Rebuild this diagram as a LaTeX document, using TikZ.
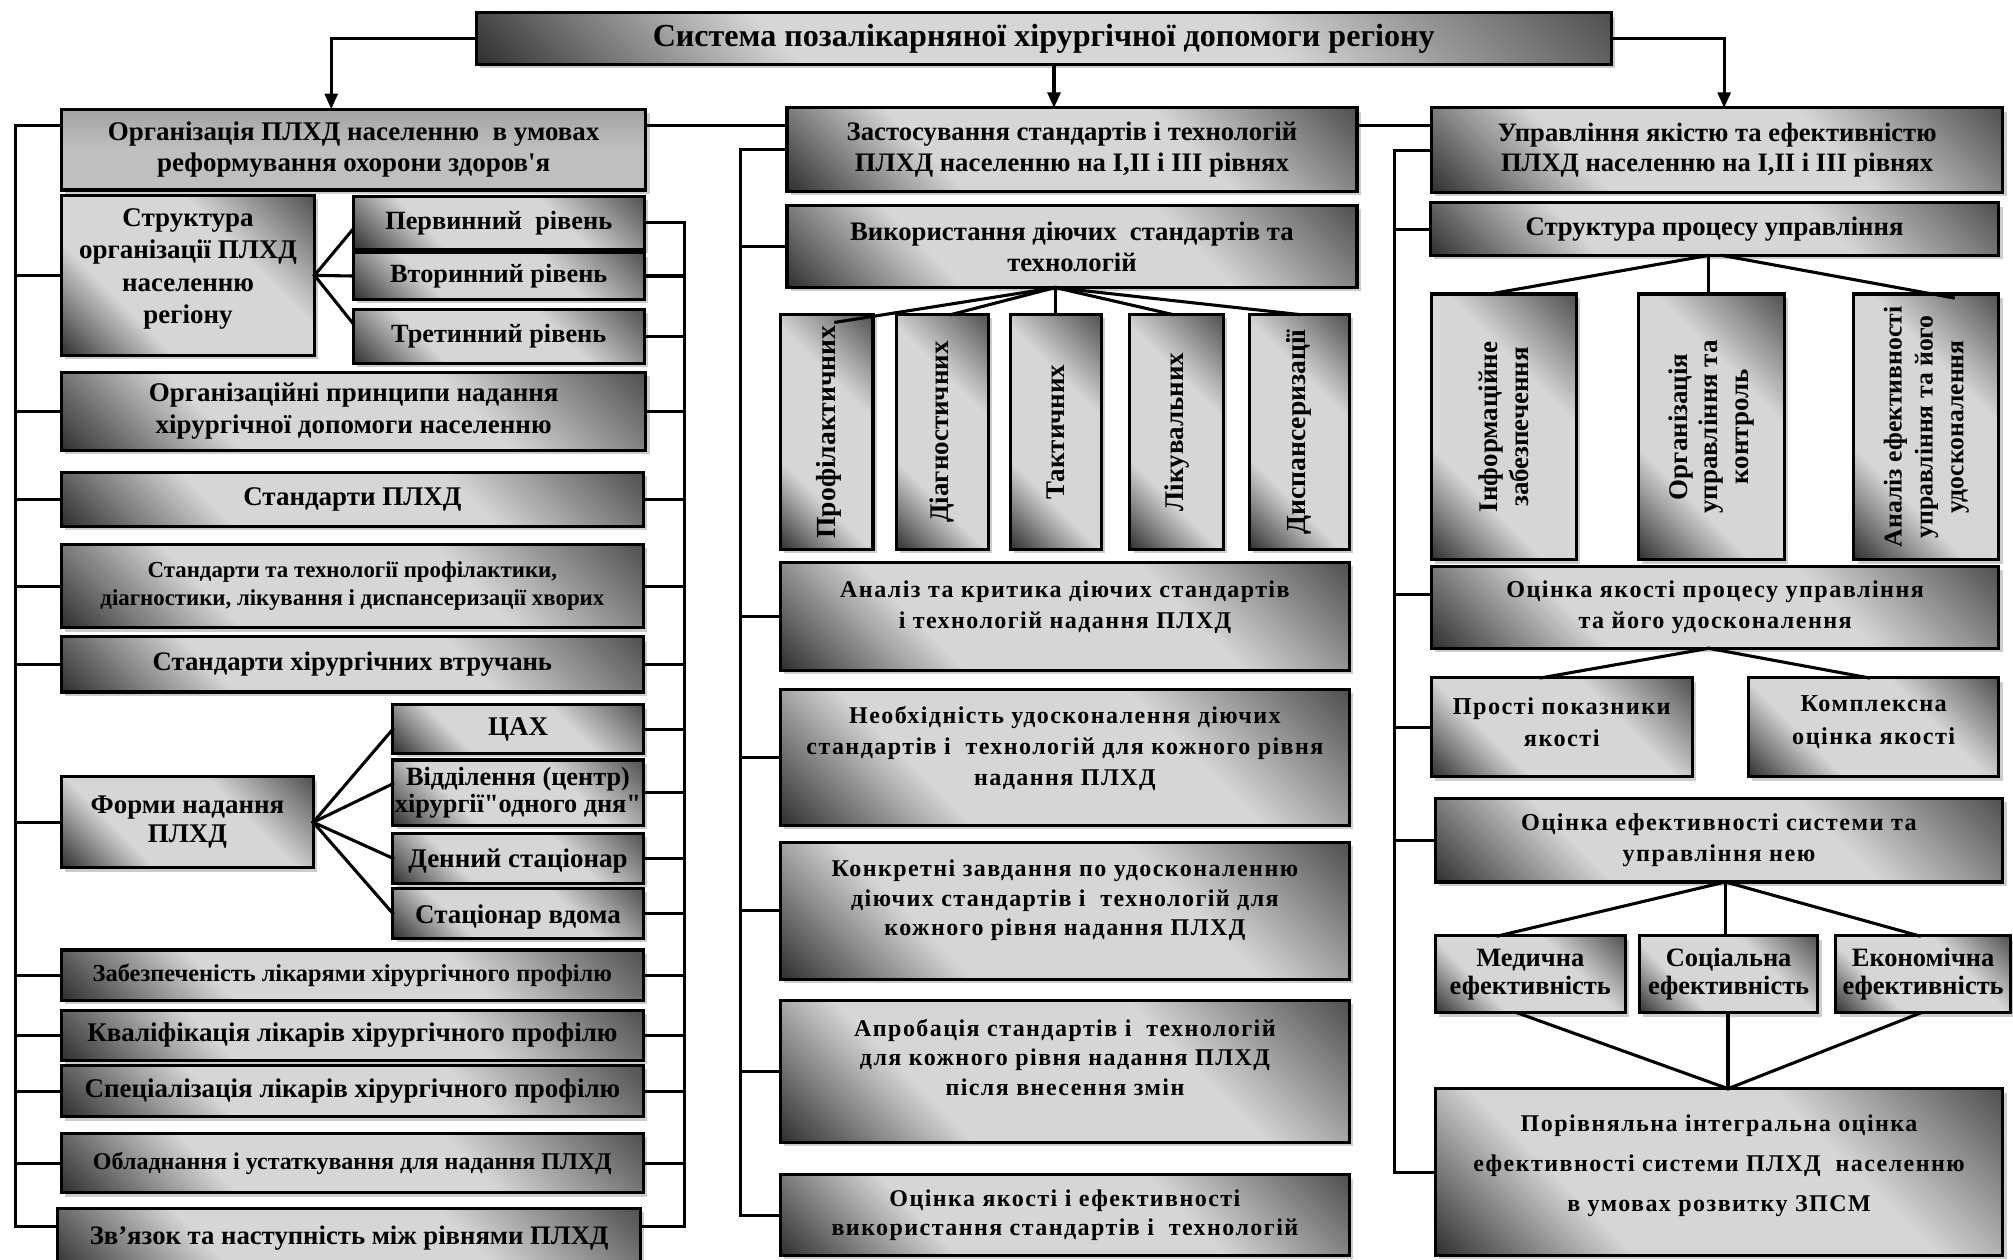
\documentclass[tikz,border=0pt]{standalone}
\usepackage{fontspec}
\setmainfont{Liberation Serif}[Ligatures=TeXOff]
\usetikzlibrary{arrows.meta,shadows,calc}
\definecolor{bxdark}{gray}{0.20}
\definecolor{bxmid}{gray}{0.30}
\definecolor{bxlight}{gray}{0.84}
\definecolor{bxflat}{gray}{0.75}
\definecolor{shadowc}{gray}{0.80}
\pgfdeclareverticalshading{boxshade}{100bp}{color(0bp)=(bxdark); color(15bp)=(bxdark); color(34bp)=(bxlight); color(63bp)=(bxlight); color(86bp)=(bxmid); color(100bp)=(bxmid)}
\tikzset{
  box/.style={draw=black, line width=2.4pt, shading=boxshade, shading angle=-45,
    drop shadow={shadow xshift=3pt, shadow yshift=-3pt, fill=shadowc, opacity=1}, inner sep=0pt, outer sep=0pt},
  flatbox/.style={box, shading=axis, top color=bxflat!85!black, bottom color=bxflat, middle color=bxflat},
  txt/.style={align=center, inner sep=0pt, outer sep=0pt, text=black},
  fs/.style 2 args={font=\fontsize{#1}{#2}\selectfont\bfseries},
  fsl/.style 2 args={font=\fontsize{#1}{#2}\selectfont\bfseries\addfontfeature{LetterSpace=6}},
  conn/.style={line width=2.4pt, line cap=rect, line join=miter},
  arr/.style={line width=2.4pt, -{Triangle[length=12pt,width=10pt]}},
}
\newcommand\mybox[8][box]{%
  \pgfmathsetmacro\bxcx{(#3+#5)/2}%
  \pgfmathsetmacro\bxcy{(#4+#6)/2}%
  \pgfmathsetmacro\bxw{#5-#3}%
  \pgfmathsetmacro\bxh{#6-#4}%
  \node[#1, minimum width=\bxw pt, minimum height=\bxh pt] (#2) at (\bxcx,\bxcy) {};
  \node[txt, #7] (#2t) at (#2.center) {#8};}
\begin{document}
\begin{tikzpicture}[x=1pt,y=-1pt]
\useasboundingbox (0,0) rectangle (1568,981);
\fill[white] (0,0) rectangle (1568,981);
% title
\mybox{T}{371}{10}{1255}{50}{fs={25}{28}}{Система позалікарняної хірургічної допомоги регіону}
% left column
\mybox[flatbox]{L0}{48}{85}{503}{148}{fs={21}{24}}{Організація ПЛХД населенню\ \ в умовах\\реформування охорони здоров'я}
\mybox{LS}{48}{152}{245}{277}{fs={21}{25},yshift=5pt}{Структура\\організації ПЛХД\\населенню\\регіону}
\mybox{P1}{275}{153}{502}{194}{fs={20.5}{22}}{Первинний\ \ рівень}
\mybox{P2}{275}{197}{502}{233}{fs={20.5}{22}}{Вторинний рівень}
\mybox{P3}{275}{241}{502}{283}{fs={20.5}{22}}{Третинний рівень}
\mybox{LP}{48}{290}{503}{351}{fs={21}{25}}{Організаційні принципи надання\\хірургічної допомоги населенню}
\mybox{LST}{48}{368}{501}{410}{fs={21}{24}}{Стандарти ПЛХД}
\mybox{LSTT}{48}{424}{501}{489}{fs={17.8}{22}}{Стандарти та технології профілактики,\\діагностики, лікування і диспансеризації хворих}
\mybox{LSV}{48}{496}{501}{539}{fs={20.8}{22}}{Стандарти хірургічних втручань}
\mybox{LF}{48}{605}{244}{676}{fs={21}{23}}{Форми надання\\ПЛХД}
\mybox{F1}{306}{549}{501}{587}{fs={21}{22}}{ЦАХ}
\mybox{F2}{306}{592}{501}{643}{fs={20.5}{21}}{Відділення (центр)\\хірургії"одного дня"}
\mybox{F3}{306}{649}{501}{688}{fs={21}{22},yshift=-2pt}{Денний стаціонар}
\mybox{F4}{306}{692}{501}{731}{fs={21}{22},yshift=-3pt}{Стаціонар вдома}
\mybox{LZ}{48}{740}{501}{779}{fs={19}{20}}{Забезпеченість лікарями хірургічного профілю}
\mybox{LK}{48}{787}{501}{826}{fs={21}{22}}{Кваліфікація лікарів хірургічного профілю}
\mybox{LSP}{48}{830}{501}{870}{fs={21}{22}}{Спеціалізація лікарів хірургічного профілю}
\mybox{LO}{48}{883}{501}{929}{fs={18.7}{20}}{Обладнання і устаткування для надання ПЛХД}
\mybox{LZV}{45}{941}{499}{990}{fs={20.8}{22},yshift=1pt}{Зв’язок та наступність між рівнями ПЛХД}
% middle column
\mybox{M0}{613}{84}{1057}{149}{fs={20.8}{24}}{Застосування стандартів і технологій\\ПЛХД населенню на І,ІІ і ІІІ рівнях}
\mybox{M1}{613}{160}{1057}{224}{fs={20.8}{24}}{Використання діючих\ \ стандартів та\\технологій}
\mybox{V1}{608}{245}{680}{428}{fs={21.5}{24},rotate=90,yshift=-2pt}{Профілактичних}
\mybox{V2}{698}{245}{770}{428}{fs={21}{24},rotate=90}{Діагностичних}
\mybox{V3}{787}{245}{858}{428}{fs={21}{24},rotate=90}{Тактичних}
\mybox{V4}{880}{245}{953}{428}{fs={21}{24},rotate=90}{Лікувальних}
\mybox{V5}{973}{245}{1051}{428}{fs={21.5}{24},rotate=90}{Диспансеризації}
\mybox{MA}{608}{438}{1051}{522}{fsl={18.7}{23.5},yshift=7pt}{Аналіз та критика діючих стандартів\\і технологій надання ПЛХД}
\mybox{MN}{608}{537}{1051}{643}{fsl={18.7}{24},yshift=7pt}{Необхідність удосконалення діючих\\стандартів і\ \ технологій для кожного рівня\\надання ПЛХД}
\mybox{MK}{608}{656}{1051}{763}{fsl={18.7}{23},yshift=8pt}{Конкретні завдання по удосконаленню\\діючих стандартів і\ \ технологій для\\кожного рівня надання ПЛХД}
\mybox{MAp}{608}{779}{1051}{890}{fsl={18.7}{23},yshift=11pt}{Апробація стандартів і\ \ технологій\\для кожного рівня надання ПЛХД\\після внесення змін}
\mybox{MO}{608}{915}{1051}{978}{fsl={18.7}{22}}{Оцінка якості і ефективності\\використання стандартів і\ \ технологій}
% right column
\mybox{R0}{1115}{84}{1560}{150}{fs={20.7}{24}}{Управління якістю та ефективністю\\ПЛХД населенню на І,ІІ і ІІІ рівнях}
\mybox{R1}{1114}{158}{1557}{199}{fs={20.8}{22}}{Структура процесу управління}
\mybox{RV1}{1115}{229}{1228}{436}{fs={21}{24},rotate=90}{Інформаційне\\забезпечення}
\mybox{RV2}{1276}{229}{1390}{436}{fs={21}{24},rotate=90}{Організація\\управління та\\контроль}
\mybox{RV3}{1444}{229}{1557}{436}{fs={20}{24},rotate=90}{Аналіз ефективності\\управління та його\\удосконалення}
\mybox{RQ}{1115}{441}{1557}{505}{fsl={18.8}{24}}{Оцінка якості процесу управління\\та його удосконалення}
\mybox{RP}{1115}{528}{1318}{605}{fsl={18.9}{25},yshift=4pt}{Прості показники\\якості}
\mybox{RC}{1362}{528}{1557}{605}{fsl={18.9}{25},yshift=4pt}{Комплексна\\оцінка якості}
\mybox{RE}{1118}{622}{1560}{687}{fsl={18.9}{24}}{Оцінка ефективності системи та\\управління нею}
\mybox{RM}{1118}{729}{1266}{789}{fs={20.6}{22}}{Медична\\ефективність}
\mybox{RS}{1277}{729}{1416}{789}{fs={20.6}{22}}{Соціальна\\ефективність}
\mybox{RK}{1430}{729}{1566}{789}{fs={20.6}{22}}{Економічна\\ефективність}
\mybox{RI}{1118}{848}{1560}{978}{fsl={18.7}{31},yshift=5pt}{Порівняльна інтегральна оцінка\\ефективності системи ПЛХД\ \ населенню\\в умовах розвитку ЗПСМ}
% helper coordinates
\coordinate (tl) at (258,0);
\coordinate (tm) at (821,0);
\coordinate (tr) at (1343,0);
\coordinate (row) at (0,98);
\coordinate (lbx) at (12,0);
\coordinate (rbx) at (533,0);
\coordinate (mbx) at (577,0);
\coordinate (rrx) at (1086,0);
\coordinate (lbend) at (0,955);
\coordinate (rqs) at ([yshift=10pt]RQ.west);
% title arrows
\draw[arr] (T.west) -| (tl |- L0.north);
\draw[arr] (tm |- T.south) -- (tm |- M0.north);
\draw[arr] (T.east) -| (tr |- R0.north);
% row connection
\draw[conn] (L0.east |- row) -- (M0.west |- row);
\draw[conn] (M0.east |- row) -- (R0.west |- row);
% left bus
\draw[conn] (L0.west |- row) -- (lbx |- row) -- (lbx |- lbend) -- (LZV.west |- lbend);
\foreach \bn in {LS,LP,LST,LSTT,LSV,LF,LZ,LK,LSP,LO} {\draw[conn] (lbx |- \bn.west) -- (\bn.west);}
% right bus of left column
\draw[conn] (P1.east) -- (rbx |- P1.east) -- (rbx |- lbend) -- (LZV.east |- lbend);
\foreach \bn in {P2,P3,LP,LST,LSTT,LSV,F1,F2,F3,F4,LZ,LK,LSP,LO} {\draw[conn] (\bn.east) -- (rbx |- \bn.east);}
% middle bus
\draw[conn] (M0.west) -- (mbx |- M0.west) -- (mbx |- MO.west) -- (MO.west);
\foreach \bn in {M1,MA,MN,MK,MAp} {\draw[conn] (mbx |- \bn.west) -- (\bn.west);}
% right bus
\draw[conn] (R0.west) -- (rrx |- R0.west) -- (rrx |- RI.west) -- (RI.west);
\foreach \bn in {R1,RP,RE} {\draw[conn] (rrx |- \bn.west) -- (\bn.west);}
\draw[conn] (rrx |- rqs) -- (rqs);
% fans left
\draw[conn] (LS.east) -- ([yshift=-5pt]P1.west);
\draw[conn] (LS.east) -- (P2.west);
\draw[conn] (LS.east) -- ([yshift=10pt]P3.west);
\foreach \bn in {F1,F3,F4} {\draw[conn] (LF.east) -- (\bn.west);}
\draw[conn] (LF.east) -- ([yshift=7pt]F2.west);
% fan middle
\coordinate (m1f) at ([xshift=-13pt]M1.south);
\draw[conn] (m1f) -- ([xshift=7pt,yshift=-6pt]V1.north);
\draw[conn] (m1f) -- ([xshift=7pt]V2.north);
\draw[conn] (m1f) -- (m1f |- V3.north);
\draw[conn] (m1f) -- ([xshift=-3pt]V4.north);
\draw[conn] (m1f) -- (V5.north);
% fans right
\coordinate (r1f) at ([xshift=-5pt]R1.south);
\draw[conn] (r1f) -- ([xshift=-11pt]RV1.north);
\draw[conn] (r1f) -- (r1f |- RV2.north);
\draw[conn] ([xshift=11pt]r1f) -- ([xshift=21pt,yshift=-3pt]RV3.north);
\coordinate (rqf) at ([xshift=-5pt]RQ.south);
\draw[conn] (rqf) -- ([xshift=-16pt]RP.north);
\draw[conn] (rqf) -- ([xshift=-4pt]RC.north);
\coordinate (ref) at ([xshift=5pt]RE.south);
\draw[conn] (ref) -- ([xshift=-25pt]RM.north);
\draw[conn] (ref) -- (ref |- RS.north);
\draw[conn] (ref) -- ([xshift=-3pt]RK.north);
\coordinate (rif) at ([xshift=7pt]RI.north);
\draw[conn] ([xshift=-10pt]RM.south) -- (rif);
\draw[conn] (rif |- RS.south) -- (rif);
\draw[conn] ([xshift=-2pt]RK.south) -- (rif);
\end{tikzpicture}
\end{document}
